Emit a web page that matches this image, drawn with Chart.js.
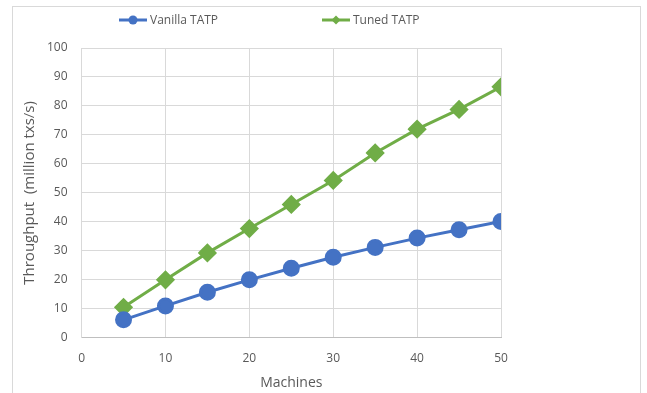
<!DOCTYPE html>
<html>
<head>
  <meta charset="UTF-8">
  <title>TATP Throughput</title>
  <script src="https://cdn.jsdelivr.net/npm/chart.js"></script>
  <style>
    body { margin: 0; background: #fff; font-family: 'Open Sans', sans-serif; }
    #wrap { position: relative; width: 647px; height: 393px; overflow: hidden; }
    #frame {
      position: absolute; left: 12px; top: 6px; width: 629px; height: 392px;
      border: 1px solid #d9d9d9; box-sizing: border-box;
    }
    canvas#myChart { position: absolute; left: 0; top: 0; }
    #legend { position: absolute; top: 11px; left: 0; width: 647px; height: 20px; }
    .item { position: absolute; top: 0; display: flex; align-items: center; color: #595959; font-size: 12px; }
    .item canvas { margin-right: 3px; }
  </style>
</head>
<body>
  <div id="wrap">
    <div id="frame"></div>
    <canvas id="myChart" width="647" height="393"></canvas>
    <div id="legend"></div>
  </div>

  <script>
    const machines = [5, 10, 15, 20, 25, 30, 35, 40, 45, 50];
    const vanilla = [6.2, 11, 15.7, 20, 24, 27.8, 31.2, 34.4, 37.3, 40.1];
    const tuned = [10.5, 20, 29.3, 37.7, 46, 54.3, 63.8, 72, 78.8, 86.6];
    const blue = '#4472c4';
    const green = '#70ad47';

    // legend swatch: short line with marker on it
    function swatch(color, shape) {
      const c = document.createElement('canvas');
      c.width = 28; c.height = 12;
      const g = c.getContext('2d');
      g.strokeStyle = color; g.fillStyle = color; g.lineWidth = 3;
      g.beginPath(); g.moveTo(0, 6); g.lineTo(28, 6); g.stroke();
      g.beginPath();
      if (shape === 'circle') {
        g.arc(14, 6, 4.5, 0, Math.PI * 2);
      } else {
        g.moveTo(14, 1.5); g.lineTo(18.5, 6); g.lineTo(14, 10.5); g.lineTo(9.5, 6); g.closePath();
      }
      g.fill();
      return c;
    }

    const pts = arr => arr.map((v, i) => ({ x: machines[i], y: v }));
    const tickFont = { family: 'Open Sans', size: 12 };

    const ctx = document.getElementById('myChart').getContext('2d');
    const chart = new Chart(ctx, {
      type: 'line',
      data: {
        datasets: [{
          label: 'Vanilla TATP',
          data: pts(vanilla),
          borderColor: blue,
          backgroundColor: blue,
          borderWidth: 3,
          pointStyle: 'circle',
          pointRadius: 7,
          shape: 'circle',
          legendX: 119
        }, {
          label: 'Tuned TATP',
          data: pts(tuned),
          borderColor: green,
          backgroundColor: green,
          borderWidth: 3,
          pointStyle: 'rectRot',
          pointRadius: 7.5,
          shape: 'diamond',
          legendX: 322
        }]
      },
      options: {
        responsive: false,
        animation: false,
        layout: { padding: { left: 15, right: 146, top: 48, bottom: 2 } },
        plugins: {
          tooltip: { enabled: false },
          legend: { display: false }
        },
        scales: {
          x: {
            type: 'linear',
            min: 0, max: 50,
            ticks: { stepSize: 10, color: '#595959', font: tickFont, padding: 14 },
            grid: { color: '#d9d9d9', drawTicks: false },
            border: { color: '#bfbfbf' },
            title: { display: true, text: 'Machines', color: '#595959', font: { family: 'Open Sans', size: 14 }, padding: { top: -6, bottom: 0 } }
          },
          y: {
            min: 0, max: 100,
            ticks: { stepSize: 10, autoSkip: false, color: '#595959', font: tickFont, padding: 14 },
            grid: { color: '#d9d9d9', drawTicks: false },
            border: { color: '#d9d9d9' },
            title: { display: true, text: 'Throughput  (million txs/s)', color: '#595959', font: { family: 'Open Sans', size: 15 }, padding: { top: 6, bottom: -6 } }
          }
        }
      }
    });

    const legend = document.getElementById('legend');
    chart.data.datasets.forEach(ds => {
      const item = document.createElement('div');
      item.className = 'item';
      item.style.left = ds.legendX + 'px';
      item.appendChild(swatch(ds.borderColor, ds.shape));
      const span = document.createElement('span');
      span.textContent = ds.label;
      item.appendChild(span);
      legend.appendChild(item);
    });
  </script>
</body>
</html>
